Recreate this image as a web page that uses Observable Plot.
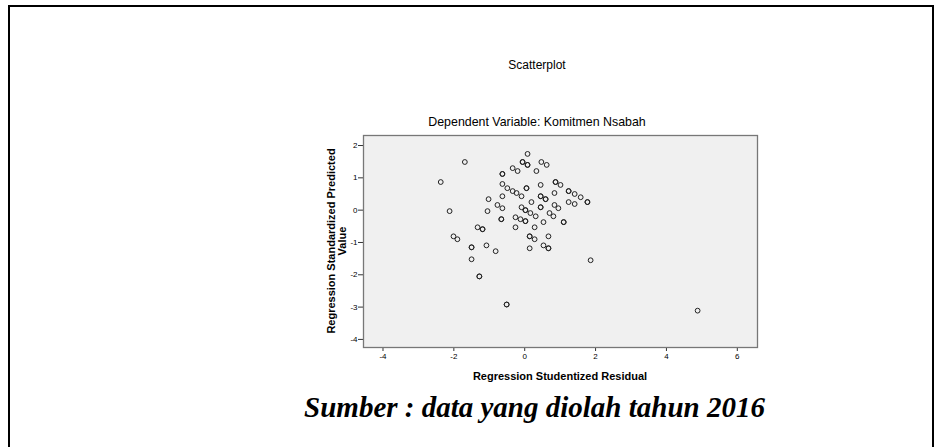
<!DOCTYPE html>
<html>
<head>
<meta charset="utf-8">
<script src="https://cdn.jsdelivr.net/npm/d3@7"></script>
<script src="https://cdn.jsdelivr.net/npm/@observablehq/plot@0.6"></script>
<style>
  html, body { margin: 0; padding: 0; background: #fff; overflow: hidden; }
  #wrap { position: relative; width: 938px; height: 447px; }
  #frame { position: absolute; left: 8px; top: 5px; width: 926px; height: 470px; border: 2px solid #000; box-sizing: border-box; }
  #chart { position: absolute; left: 0; top: 0; }
  #caption { position: absolute; left: 0; width: 1069px; top: 393px; text-align: center;
    font-family: "Liberation Serif", "Times New Roman", serif; font-weight: bold; font-style: italic;
    font-size: 29px; line-height: 29px; color: #000; white-space: nowrap; }
</style>
</head>
<body>
<div id="wrap">
  <div id="frame"></div>
  <div id="chart"></div>
  <div id="caption">Sumber : data yang diolah tahun 2016</div>
</div>
<script>
const title = "Scatterplot";
const subtitle = "Dependent Variable: Komitmen Nsabah";
const xLabel = "Regression Studentized Residual";
const yLabelLines = ["Regression Standardized Predicted", "Value"];
const xTicks = [-4, -2, 0, 2, 4, 6];
const yTicks = [2, 1, 0, -1, -2, -3, -4];

// Regression Studentized Residual (x) and Regression Standardized Predicted Value (y)
const residual = [
  -1.69, -2.37, -2.12, 0.08, -0.63, -0.34, -0.20, -0.06, 0.08, 0.47,
  0.62, 0.33, -0.63, -0.49, -0.34, -0.23, -0.09, 0.05, 0.45, 0.87,
  1.01, 1.24, 0.84, -0.63, -1.02, 0.19, 0.45, 0.59, 1.24, -0.77,
  -0.63, -1.05, -0.09, 0.02, 0.16, 0.31, 0.45, 0.84, 0.95, 0.70,
  0.81, -0.66, -0.26, -0.12, 0.02, 0.53, 1.10, -1.33, -1.19, -0.26,
  0.28, -2.01, -1.90, -1.50, -1.08, -0.82, 0.14, 0.28, 0.67, 0.14,
  0.53, 0.67, -1.50, -1.28, -0.51, 1.41, 1.77, 1.86, 4.88, 1.41,
  1.58,
  // overlapping cases (drawn darker in the reference)
  -0.63, -0.06, 0.08, 0.05, 0.87, 1.24, 0.45, 0.59, 0.02, 0.45,
  -0.66, 0.02, 1.10, -1.19, -1.50, 0.14, 0.67, -1.28, -0.51, 1.77
];
const predicted = [
  1.49, 0.87, -0.03, 1.74, 1.12, 1.30, 1.21, 1.49, 1.40, 1.49,
  1.40, 1.21, 0.81, 0.68, 0.59, 0.53, 0.43, 0.68, 0.78, 0.87,
  0.78, 0.59, 0.53, 0.43, 0.34, 0.25, 0.43, 0.34, 0.25, 0.16,
  0.06, -0.03, 0.09, 0.00, -0.09, -0.19, 0.09, 0.16, 0.06, -0.09,
  -0.19, -0.28, -0.22, -0.28, -0.34, -0.37, -0.37, -0.53, -0.59, -0.53,
  -0.53, -0.81, -0.90, -1.15, -1.09, -1.27, -0.81, -0.90, -0.81, -1.18,
  -1.09, -1.18, -1.52, -2.05, -2.92, 0.19, 0.25, -1.55, -3.11, 0.50,
  0.40,
  1.12, 1.49, 1.40, 0.68, 0.87, 0.59, 0.43, 0.34, 0.00, 0.09,
  -0.28, -0.34, -0.37, -0.59, -1.15, -0.81, -1.18, -2.05, -2.92, 0.25
];

const data = residual.map((x, i) => ({x, y: predicted[i]}));

const W = 938, H = 447;
const chart = Plot.plot({
  width: W,
  height: H,
  marginLeft: 363,
  marginRight: W - 757,
  marginTop: 135,
  marginBottom: H - 347,
  style: { fontFamily: "'Liberation Sans', Arial, sans-serif", fontSize: "8px", color: "#000", background: "transparent" },
  x: { domain: [-4.55, 6.57], ticks: xTicks, tickFormat: d => String(d), label: null, tickSize: 4, tickPadding: 2 },
  y: { domain: [-4.25, 2.31], ticks: yTicks, tickFormat: d => String(d), label: null, tickSize: 5, tickPadding: 1 },
  marks: [
    Plot.frame({ fill: "#f0f0f0", stroke: null }),
    Plot.axisX({ ticks: xTicks, tickFormat: d => String(d), label: null, tickSize: 4, tickPadding: 2, stroke: "#333", fill: "#000" }),
    Plot.axisY({ ticks: yTicks, tickFormat: d => String(d), label: null, tickSize: 5, tickPadding: 1, stroke: "#333", fill: "#000" }),
    Plot.dot(data, { x: "x", y: "y", r: 2.4, fill: "none", stroke: "#222", strokeWidth: 1 }),
    Plot.frame({ stroke: "#777", strokeWidth: 1.3 })
  ]
});
document.getElementById("chart").appendChild(chart);

const svg = d3.select(chart);
const sans = "'Liberation Sans', Arial, sans-serif";
svg.append("text").attr("x", 537).attr("y", 69).attr("text-anchor", "middle")
  .attr("font-family", sans).attr("font-size", 12).attr("fill", "#000").text(title);
svg.append("text").attr("x", 537).attr("y", 126).attr("text-anchor", "middle")
  .attr("font-family", sans).attr("font-size", 12.4).attr("fill", "#000").text(subtitle);
svg.append("text").attr("x", 560).attr("y", 380).attr("text-anchor", "middle")
  .attr("font-family", sans).attr("font-size", 11).attr("font-weight", "bold").attr("fill", "#000").text(xLabel);
const yl = svg.append("text").attr("transform", "translate(335,241) rotate(-90)")
  .attr("text-anchor", "middle").attr("font-family", sans).attr("font-size", 11)
  .attr("font-weight", "bold").attr("fill", "#000");
yLabelLines.forEach((t, i) => yl.append("tspan").attr("x", 0).attr("dy", i === 0 ? 0 : 11).text(t));
</script>
</body>
</html>
